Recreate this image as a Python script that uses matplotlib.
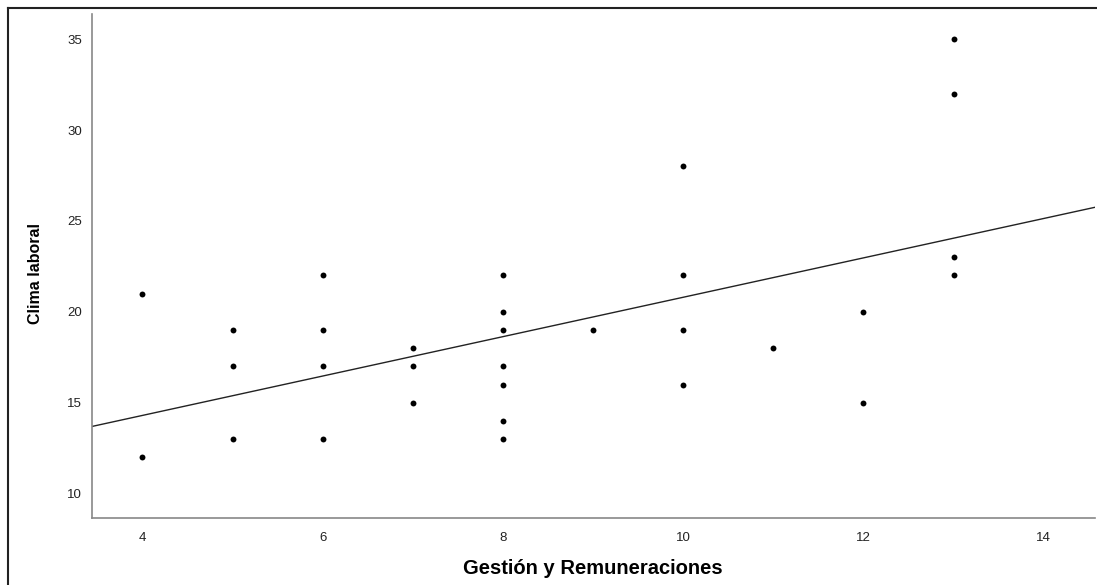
import matplotlib
matplotlib.use("Agg")
import matplotlib.pyplot as plt
from matplotlib.lines import Line2D

plt.rcParams['font.family'] = ['Liberation Sans', 'DejaVu Sans']

# datos
gestion = [4, 4, 5, 5, 5, 6, 6, 6, 6, 7, 7, 7,
           8, 8, 8, 8, 8, 8, 8, 9, 10, 10, 10, 10,
           11, 12, 12, 13, 13, 13, 13]
clima = [21, 12, 19, 17, 13, 22, 19, 17, 13, 18, 17, 15,
         22, 20, 19, 17, 16, 14, 13, 19, 28, 22, 19, 16,
         18, 20, 15, 35, 32, 23, 22]

# recta de ajuste
intercepto = 9.97
pendiente = 1.083

x_ticks = [4, 6, 8, 10, 12, 14]
y_ticks = [10, 15, 20, 25, 30, 35]
x_lim = (3.44, 14.57)
y_lim = (8.66, 36.38)

fig = plt.figure(figsize=(10.97, 5.85), dpi=100)
ax = fig.add_axes([92 / 1097, 67 / 585, 1003 / 1097, 504 / 585])

ax.scatter(gestion, clima, s=18, color='black', zorder=3, linewidths=0)
xs = list(x_lim)
ax.plot(xs, [intercepto + pendiente * v for v in xs], color='#222222', lw=1.0, zorder=2)

ax.set_xlim(*x_lim)
ax.set_ylim(*y_lim)
ax.set_xticks(x_ticks)
ax.set_yticks(y_ticks)
ax.tick_params(length=0, labelsize=9.5, colors='#222222')
ax.tick_params(axis='x', pad=10)
ax.tick_params(axis='y', pad=7)

for s in ['top', 'right']:
    ax.spines[s].set_visible(False)
for s in ['left', 'bottom']:
    ax.spines[s].set_color('#888888')
    ax.spines[s].set_linewidth(1.2)

ax.set_xlabel('Gestión y Remuneraciones', fontsize=14.5, fontweight='bold')
ax.xaxis.set_label_coords((593 - 92) / 1003, -(569 - 518) / 504)
ax.xaxis.label.set_va('center')
ax.set_ylabel('Clima laboral', fontsize=11.5, fontweight='bold')
ax.yaxis.set_label_coords(-(92 - 36) / 1003, (518 - 273) / 504)
ax.yaxis.label.set_va('center')

# marco de la captura (solo arriba e izquierda)
fig.add_artist(Line2D([8 / 1097, 1], [1 - 8 / 585, 1 - 8 / 585], color='#222222', lw=1.5,
                      transform=fig.transFigure))
fig.add_artist(Line2D([8 / 1097, 8 / 1097], [0, 1 - 8 / 585], color='#222222', lw=1.5,
                      transform=fig.transFigure))

fig.savefig('out.png', dpi=100)
